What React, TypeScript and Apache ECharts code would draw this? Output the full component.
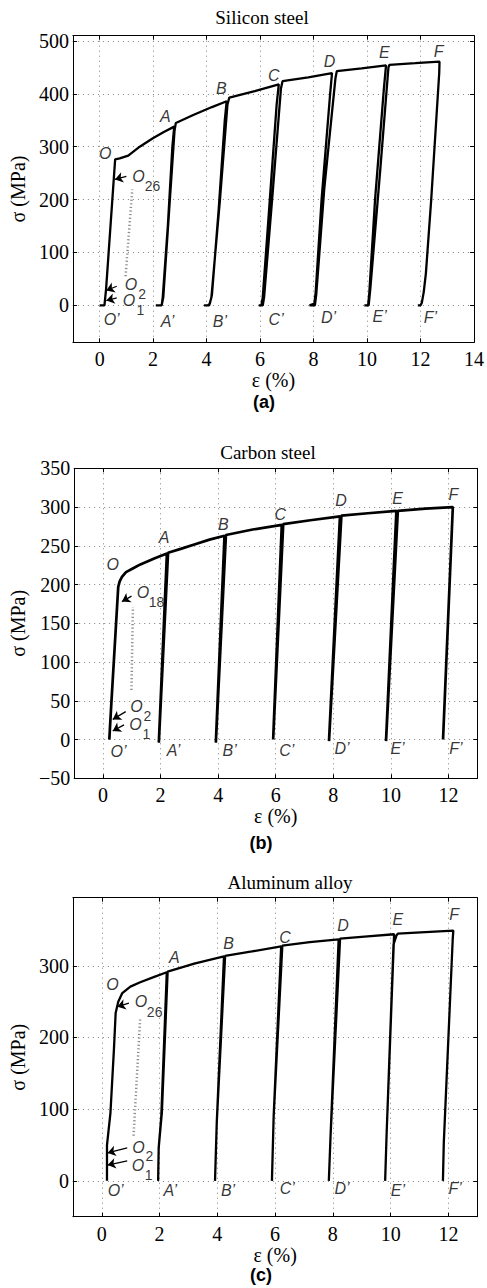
import React, { useEffect, useRef } from "react";
import * as echarts from "echarts";

// ---------- DATA ----------
const siliconCurve: number[][] = [
  [0, 0], [0.18, 0], [0.24, 30], [0.58, 276], [0.75, 278], [1.07, 283], [1.5, 300], [1.99, 316], [2.4, 328], [2.79, 338],
  [2.72, 300], [2.55, 150], [2.36, 15], [2.32, 0], [2.1, 0], [2.32, 0], [2.38, 15], [2.6, 180], [2.8, 330], [2.85, 345],
  [3.5, 360], [4.2, 375], [4.75, 386],
  [4.68, 350], [4.45, 180], [4.2, 20], [4.12, 3], [4.05, 0], [3.9, 0], [4.1, 0], [4.18, 15], [4.5, 200], [4.78, 380], [4.85, 393],
  [5.8, 405], [6.7, 418],
  [6.62, 380], [6.35, 190], [6.1, 15], [6.05, 0], [5.95, 0], [6.1, 0], [6.15, 15], [6.45, 200], [6.78, 410], [6.84, 424],
  [7.8, 431], [8.69, 439],
  [8.62, 400], [8.3, 200], [8.08, 25], [8.03, 3], [7.85, 0], [8.05, 0], [8.1, 20], [8.4, 220], [8.82, 430], [8.87, 443],
  [9.8, 448], [10.71, 454],
  [10.63, 410], [10.3, 200], [10.08, 20], [10.04, 0], [9.9, 0], [10.06, 0], [10.12, 30], [10.5, 260], [10.8, 450], [10.84, 455],
  [11.8, 458], [12.71, 461],
  [12.7, 440], [12.4, 200], [12.2, 60], [12.12, 25], [12.05, 5], [12.0, 0], [11.9, 0],
];

const carbonCurve: number[][] = [
  [0.22, 0], [0.28, 40], [0.53, 197], [0.58, 204], [0.66, 210], [0.8, 216], [1.05, 221], [1.3, 226], [1.8, 234], [2.22, 240],
  [1.94, -4], [2.26, 241],
  [2.7, 246], [3.2, 252], [3.7, 258], [4.22, 263],
  [3.92, -4], [4.27, 264],
  [5.2, 271], [6.21, 277],
  [5.91, 0], [6.26, 278],
  [7.2, 283], [8.23, 288],
  [7.85, -2], [8.28, 289],
  [9.2, 292], [10.19, 295],
  [9.83, -2], [10.24, 295],
  [11.2, 298], [12.15, 300],
  [11.81, 0],
];

const aluminumCurve: number[][] = [
  [0.18, 0], [0.18, 50], [0.3, 95], [0.42, 183], [0.48, 234], [0.57, 250], [0.71, 262], [0.99, 271], [1.33, 277], [1.84, 285], [2.25, 291],
  [2.06, 90], [1.97, 46], [1.95, 0], [1.97, 46], [2.08, 95], [2.28, 292],
  [3.2, 303], [4.23, 313],
  [3.98, 81], [3.92, 0], [3.98, 81], [4.27, 314],
  [5.2, 320], [6.21, 327],
  [5.95, 90], [5.89, 0], [5.95, 90], [6.25, 328],
  [7.2, 333], [8.2, 337],
  [7.92, 63], [7.86, 0], [7.92, 63], [8.25, 338],
  [9.2, 341], [10.12, 344],
  [9.86, 65], [9.81, 0], [9.86, 65], [10.1, 330], [10.2, 342], [10.25, 345],
  [11.2, 347], [12.17, 349], [12.15, 338],
  [11.84, 53], [11.81, 0],
];

const xTicksA = [0, 2, 4, 6, 8, 10, 12, 14];
const yTicksA = [0, 100, 200, 300, 400, 500];
const xTicksBC = [0, 2, 4, 6, 8, 10, 12];
const yTicksB = [-50, 0, 50, 100, 150, 200, 250, 300, 350];
const yTicksC = [0, 100, 200, 300];

const titles = ["Silicon steel", "Carbon steel", "Aluminum alloy"];
const panelTags = ["(a)", "(b)", "(c)"];
const xName = "ε (%)";
const yName = "σ (MPa)";

// point labels: [text, x, y]
const siliconPointLabels: [string, number, number][] = [
  ["O", 0.21, 288], ["A", 2.46, 358], ["B", 4.55, 410], ["C", 6.51, 435], ["D", 8.6, 462], ["E", 10.65, 478], ["F", 12.68, 481],
  ["O\u2019", 0.45, -27], ["A\u2019", 2.54, -30], ["B\u2019", 4.5, -30], ["C\u2019", 6.6, -27], ["D\u2019", 8.56, -24], ["E\u2019", 10.47, -21], ["F\u2019", 12.37, -24],
  ["O", 1.45, 244], ["O", 1.17, 39], ["O", 1.1, 9],
];
const siliconSubLabels: [string, number, number][] = [["26", 1.98, 226], ["2", 1.59, 21], ["1", 1.52, -9]];
const siliconArrows: number[][][] = [[[1.0, 244], [0.57, 238]], [[0.64, 36], [0.25, 28]], [[0.64, 14], [0.25, 9]]];
const siliconDotted: number[][] = [[0.97, 55], [1.22, 219]];

const carbonPointLabels: [string, number, number][] = [
  ["O", 0.34, 226], ["A", 2.12, 261], ["B", 4.18, 277], ["C", 6.16, 290], ["D", 8.27, 308], ["E", 10.23, 311], ["F", 12.17, 316],
  ["O\u2019", 0.54, -16], ["A\u2019", 2.45, -14], ["B\u2019", 4.4, -14], ["C\u2019", 6.38, -14], ["D\u2019", 8.3, -12], ["E\u2019", 10.23, -12], ["F\u2019", 12.26, -12],
  ["O", 1.39, 190], ["O", 1.16, 43], ["O", 1.13, 20],
];
const carbonSubLabels: [string, number, number][] = [["18", 1.86, 177], ["2", 1.54, 31], ["1", 1.51, 7]];
const carbonArrows: number[][][] = [[[0.99, 185], [0.66, 178]], [[0.79, 36], [0.34, 26]], [[0.73, 19], [0.34, 11]]];
const carbonDotted: number[][] = [[0.99, 64], [1.04, 171]];

const aluminumPointLabels: [string, number, number][] = [
  ["O", 0.37, 274], ["A", 2.51, 311], ["B", 4.39, 331], ["C", 6.34, 340], ["D", 8.35, 356], ["E", 10.25, 365], ["F", 12.2, 371],
  ["O\u2019", 0.48, -13], ["A\u2019", 2.37, -13], ["B\u2019", 4.37, -13], ["C\u2019", 6.42, -11], ["D\u2019", 8.32, -11], ["E\u2019", 10.25, -13], ["F\u2019", 12.23, -11],
  ["O", 1.36, 250], ["O", 1.27, 47], ["O", 1.25, 22],
];
const aluminumSubLabels: [string, number, number][] = [["26", 1.83, 236], ["2", 1.65, 35], ["1", 1.62, 8]];
const aluminumArrows: number[][][] = [[[0.94, 248], [0.54, 243]], [[0.88, 46], [0.2, 39]], [[0.88, 28], [0.2, 22]]];
const aluminumDotted: number[][] = [[1.1, 63], [1.33, 227]];

// ---------- LAYOUT / STYLE ----------
const SERIF = '"Liberation Serif", "Times New Roman", serif';
const SANS = '"Liberation Sans", Arial, Helvetica, sans-serif';

const fmt = (v: number) => (v < 0 ? "\u2212" + Math.abs(v) : String(v));

const panels = [
  {
    grid: { left: 71, top: 35.7, width: 406.3, height: 306.6 },
    x: [-1, 14], y: [-70, 510], xTicks: xTicksA, yTicks: yTicksA,
    curve: siliconCurve, labels: siliconPointLabels, subs: siliconSubLabels, arrows: siliconArrows, dotted: siliconDotted,
    yGap: 40, xGap: 28, title: [262, 17], tag: [264, 402], lw: 2.3,
  },
  {
    grid: { left: 68, top: 468.3, width: 409.3, height: 310 },
    x: [-1, 13], y: [-50, 350], xTicks: xTicksBC, yTicks: yTicksB,
    curve: carbonCurve, labels: carbonPointLabels, subs: carbonSubLabels, arrows: carbonArrows, dotted: carbonDotted,
    yGap: 42, xGap: 27, title: [268, 452], tag: [261, 843], lw: 2.7,
  },
  {
    grid: { left: 66.7, top: 897.7, width: 410.6, height: 319 },
    x: [-1, 13], y: [-50, 395], xTicks: xTicksBC, yTicks: yTicksC,
    curve: aluminumCurve, labels: aluminumPointLabels, subs: aluminumSubLabels, arrows: aluminumArrows, dotted: aluminumDotted,
    yGap: 42, xGap: 25, title: [290, 882], tag: [261, 1275], lw: 2.3,
  },
];

function buildOption() {
  const grid: any[] = [];
  const xAxis: any[] = [];
  const yAxis: any[] = [];
  const series: any[] = [];
  const graphic: any[] = [];
  const gridLine = { show: true, lineStyle: { color: "#808080", type: [1, 4], width: 1 } };
  const axisLine = { show: true, onZero: false, lineStyle: { color: "#000", width: 1 } };

  panels.forEach((p, i) => {
    grid.push({ ...p.grid, containLabel: false });
    const tickX = { show: true, inside: true, length: 4, customValues: p.xTicks, lineStyle: { color: "#000", width: 1 } };
    const tickY = { show: true, inside: true, length: 4, customValues: p.yTicks, lineStyle: { color: "#000", width: 1 } };
    xAxis.push({
      type: "value", gridIndex: i, min: p.x[0], max: p.x[1], position: "bottom",
      axisLine, axisTick: tickX,
      axisLabel: { customValues: p.xTicks, fontFamily: SERIF, fontSize: 20, color: "#000", margin: 7, formatter: fmt },
      splitLine: gridLine,
      name: xName, nameLocation: "middle", nameGap: p.xGap,
      nameTextStyle: { fontFamily: SERIF, fontSize: 20, lineHeight: 18, color: "#000" },
    });
    xAxis.push({
      type: "value", gridIndex: i, min: p.x[0], max: p.x[1], position: "top",
      axisLine, axisTick: tickX, axisLabel: { show: false }, splitLine: { show: false },
    });
    yAxis.push({
      type: "value", gridIndex: i, min: p.y[0], max: p.y[1], position: "left",
      axisLine, axisTick: tickY,
      axisLabel: { customValues: p.yTicks, fontFamily: SERIF, fontSize: 20, color: "#000", margin: 4, formatter: fmt },
      splitLine: gridLine,
      name: yName, nameLocation: "middle", nameGap: p.yGap, nameRotate: 90,
      nameTextStyle: { fontFamily: SERIF, fontSize: 20, color: "#000" },
    });
    yAxis.push({
      type: "value", gridIndex: i, min: p.y[0], max: p.y[1], position: "right",
      axisLine, axisTick: tickY, axisLabel: { show: false }, splitLine: { show: false },
    });
    const xi = i * 2, yi = i * 2;
    series.push({
      type: "line", xAxisIndex: xi, yAxisIndex: yi, data: p.dotted, symbol: "none", silent: true,
      lineStyle: { color: "#8c8c8c", width: 2.5, type: [1.2, 2.4] }, z: 3,
    });
    series.push({
      type: "line", xAxisIndex: xi, yAxisIndex: yi, data: p.curve, symbol: "none", silent: true,
      lineStyle: { color: "#000", width: p.lw }, z: 5,
    });
    series.push({
      type: "lines", coordinateSystem: "cartesian2d", xAxisIndex: xi, yAxisIndex: yi, silent: true,
      data: p.arrows.map((a) => ({ coords: a })),
      symbol: ["none", "arrow"], symbolSize: 8,
      lineStyle: { color: "#000", width: 1.3, opacity: 1 }, z: 6,
    });
    series.push({
      type: "scatter", xAxisIndex: xi, yAxisIndex: yi, symbolSize: 0, silent: true,
      itemStyle: { color: "transparent" },
      data: p.labels.map(([n, x, y]) => ({ name: n, value: [x, y] })),
      label: { show: true, position: "inside", formatter: "{b}", fontFamily: SANS, fontStyle: "italic", fontSize: 16, lineHeight: 14, color: "#000" },
      z: 7,
    });
    series.push({
      type: "scatter", xAxisIndex: xi, yAxisIndex: yi, symbolSize: 0, silent: true,
      itemStyle: { color: "transparent" },
      data: p.subs.map(([n, x, y]) => ({ name: n, value: [x, y] })),
      label: { show: true, position: "inside", formatter: "{b}", fontFamily: SANS, fontSize: 14, lineHeight: 12, color: "#000" },
      z: 7,
    });
    graphic.push({
      type: "text", x: p.title[0], y: p.title[1],
      style: { text: titles[i], font: `19px ${SERIF}`, fill: "#000", textAlign: "center", textVerticalAlign: "middle", align: "center", verticalAlign: "middle" },
    });
    graphic.push({
      type: "text", x: p.tag[0], y: p.tag[1],
      style: { text: panelTags[i], font: `bold 18px ${SANS}`, fill: "#000", textAlign: "center", textVerticalAlign: "middle", align: "center", verticalAlign: "middle" },
    });
  });

  return { animation: false, backgroundColor: "#fff", grid, xAxis, yAxis, series, graphic };
}

export default function App() {
  const ref = useRef<HTMLDivElement>(null);
  useEffect(() => {
    document.body.style.margin = "0";
    if (!ref.current) return;
    const chart = echarts.init(ref.current, undefined, { renderer: "svg" });
    chart.setOption(buildOption() as any);
    return () => chart.dispose();
  }, []);
  return <div ref={ref} style={{ width: 487, height: 1288 }} />;
}
